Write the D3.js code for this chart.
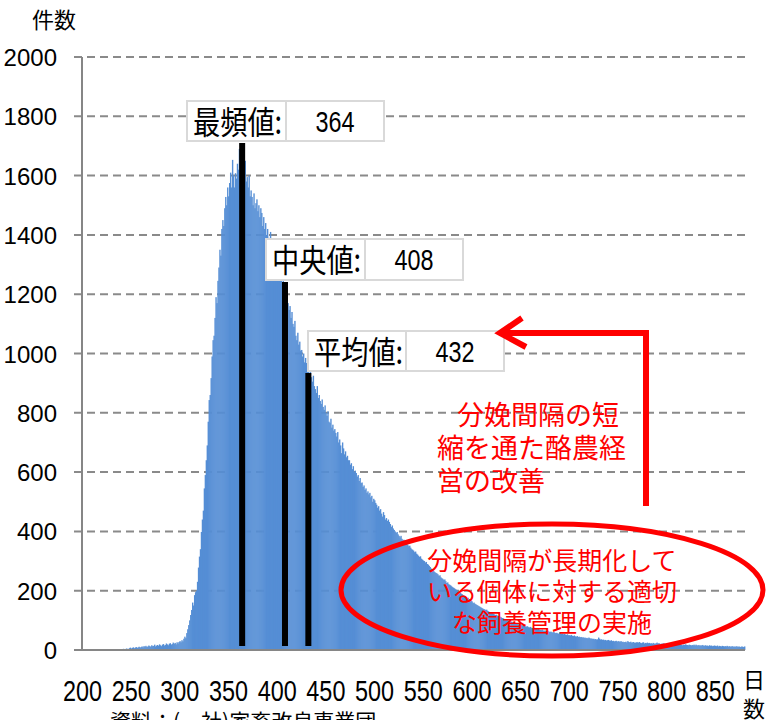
<!DOCTYPE html>
<html>
<head>
<meta charset="utf-8">
<script src="https://cdn.jsdelivr.net/npm/d3@7"></script>
<style>
  body { margin: 0; background: #ffffff; }
  svg { display: block; }
</style>
</head>
<body>
<div id="chart"></div>
<script>
// ----------------------------------------------------------------------------------------------------
// DATA
// ----------------------------------------------------------------------------------------------------

// number of cows per calving interval (days), one value per day from 200
var dayStart = 200;
var counts = [
    0,0,0,0,0,1,0,0,0,1,            0,0,1,0,0,1,0,1,0,0,
    1,0,1,1,0,2,1,0,1,2,            1,2,1,0,2,1,3,2,1,2,
    3,2,4,3,2,5,4,3,6,8,            5,7,9,6,8,10,7,9,11,8,
    10,12,9,13,11,14,10,12,15,13,   11,16,13,14,18,12,15,17,14,19,
    16,13,18,20,15,17,22,19,16,21,  23,18,20,25,21,24,19,26,22,27,
    30,26,33,29,38,45,40,57,70,84,
    100,118,135,160,150,185,195,200,230,278,
    315,340,398,440,470,545,590,640,690,770,
    843,860,917,990,1045,1060,1120,1190,1170,1245,
    1290,1350,1330,1420,1450,1430,1490,1528,1500,1560,
    1530,1575,1610,1560,1653,1600,1560,1608,1590,1640,
    1620,1690,1650,1710,1690,1640,1620,1650,1580,1595,
    1560,1600,1530,1550,1528,1500,1540,1490,1507,1520,
    1480,1500,1460,1490,1474,1430,1460,1420,1440,1400,
    1420,1390,1380,1410,1360,1380,1340,1360,1320,1330,
    1300,1320,1280,1290,1260,1238,1250,1210,1230,1190,
    1200,1170,1147,1160,1120,1140,1100,1090,1110,1060,
    1045,1070,1030,1040,1010,1012,990,1000,970,985,
    968,950,960,930,940,920,905,925,890,880,
    867,890,850,860,840,830,845,820,810,825,
    800,790,805,770,766,780,750,760,740,745,
    732,720,735,700,710,690,664,700,680,660,
    670,650,655,640,640,625,630,610,620,600,
    605,597,585,590,570,580,563,565,550,555,
    540,545,530,535,525,530,515,520,500,510,
    505,496,490,480,485,470,475,460,450,465,
    455,440,445,435,440,432,425,415,420,410,
    405,400,395,398,390,385,380,385,375,370,
    372,365,361,360,355,350,352,345,340,338,
    335,330,332,325,322,318,314,316,308,305,
    302,300,295,297,290,288,284,280,275,270,
    272,265,262,260,258,255,250,252,245,242,
    240,236,238,232,226,228,222,220,218,215,
    212,210,208,205,203,200,196,192,194,190,
    188,185,183,180,178,175,176,172,170,166,
    164,158,160,156,154,152,150,148,146,144,
    142,140,138,137,135,136,132,130,128,127,
    125,124,122,120,118,119,116,115,113,112,
    110,108,107,105,103,101,102,100,98,97,
    96,95,93,94,91,90,89,88,86,87,
    85,84,82,83,81,80,79,80,77,76,
    78,75,74,73,75,72,71,70,72,69,
    68,67,69,66,65,66,64,63,65,62,
    61,62,60,59,61,58,57,58,56,55,
    60,56,54,55,53,54,52,51,53,50,
    50,49,51,48,47,49,46,45,47,44,
    45,43,44,42,43,41,42,40,41,39,
    42,40,38,39,37,38,36,37,35,36,
    42,38,35,36,34,35,33,34,32,33,
    34,32,31,33,30,31,29,30,31,28,
    30,29,28,30,27,28,26,27,28,25,
    30,27,26,28,25,26,27,24,25,26,
    26,25,27,24,23,25,26,22,24,23,
    25,23,24,22,23,21,24,22,21,23,
    25,22,23,21,20,22,21,23,20,19,
    21,20,22,19,20,18,21,19,18,20,
    19,18,20,17,19,18,16,18,17,19,
    18,17,16,18,17,15,17,16,18,15,
    18,16,15,17,14,16,15,17,14,15,
    16,14,15,13,16,14,15,13,14,15,
    14,13,15,12,14,13,12,14,13,12,
    13,12,14,11,13,12,11,13,12,11,
    12,11,13,10,12,11,10,12,11,10,
    12
];

var yTicks = [0, 200, 400, 600, 800, 1000, 1200, 1400, 1600, 1800, 2000];
var xTicks = [200, 250, 300, 350, 400, 450, 500, 550, 600, 650, 700, 750, 800, 850];

var statNames = ["最頻値", "中央値", "平均値"];
var statValues = [364, 408, 432];

var noteLines = ["分娩間隔の短", "縮を通た酪農経", "営の改善"];
var ellipseLines = ["分娩間隔が長期化して", "いる個体に対する適切", "な飼養管理の実施"];

var yTitle = "件数";
var xTitle = ["日", "数"];
var sourceText = "資料：(一社)家畜改良事業団";

// ----------------------------------------------------------------------------------------------------
// CHART
// ----------------------------------------------------------------------------------------------------

function chartCalving_Draw(ele) {
    ele = "#" + ele;

    var w = 766;
    var h = 720;
    var left = 82, right = 745, top = 57, bottom = 650;

    var jpFont = "'Noto Sans CJK JP', 'Noto Sans', sans-serif";
    var numFont = "'Liberation Sans', Arial, sans-serif";

    var svg = d3.select(ele)
        .append("svg")
        .attr("width", w)
        .attr("height", h);

    // Scales
    var x = d3.scaleLinear()
        .domain([dayStart - 0.5, dayStart + counts.length - 0.5])
        .range([left, right]);
    var y = d3.scaleLinear()
        .domain([0, 2000])
        .range([bottom, top]);
    var step = x(1) - x(0);

    // Grid
    svg.selectAll(".grid")
        .data(yTicks.filter(function(d) { return d > 0; }))
        .enter()
        .append("line")
        .attr("class", "grid")
        .attr("x1", left - 8)
        .attr("x2", right)
        .attr("y1", function(d) { return y(d); })
        .attr("y2", function(d) { return y(d); })
        .attr("stroke", "#8a8a8a")
        .attr("stroke-width", 2)
        .attr("stroke-dasharray", "8,5");

    // Bars
    svg.selectAll(".bar")
        .data(counts)
        .enter()
        .append("rect")
        .attr("class", "bar")
        .attr("x", function(d, i) { return x(dayStart + i - 0.5); })
        .attr("y", function(d) { return y(d); })
        .attr("width", step + 0.4)
        .attr("height", function(d) { return y(0) - y(d); })
        .attr("fill", "#558ed5");

    // Axes
    svg.append("line")
        .attr("x1", left).attr("x2", left)
        .attr("y1", top).attr("y2", bottom)
        .attr("stroke", "#868686").attr("stroke-width", 2);
    svg.append("line")
        .attr("x1", left - 8).attr("x2", right)
        .attr("y1", bottom).attr("y2", bottom)
        .attr("stroke", "#868686").attr("stroke-width", 2);

    // Y labels
    svg.selectAll(".ylab")
        .data(yTicks)
        .enter()
        .append("text")
        .attr("class", "ylab")
        .attr("x", 57)
        .attr("y", function(d) { return y(d) + 9; })
        .attr("text-anchor", "end")
        .attr("font-family", numFont)
        .attr("font-size", "24px")
        .attr("fill", "#000000")
        .text(function(d) { return d; });

    // X labels
    svg.selectAll(".xlab")
        .data(xTicks)
        .enter()
        .append("text")
        .attr("class", "xlab")
        .attr("transform", function(d) { return "translate(" + x(d) + ",701) scale(0.78,1)"; })
        .attr("text-anchor", "middle")
        .attr("font-family", numFont)
        .attr("font-size", "30px")
        .attr("fill", "#000000")
        .text(function(d) { return d; });

    // Axis titles
    svg.append("text")
        .attr("x", 32).attr("y", 28)
        .attr("font-family", jpFont)
        .attr("font-size", "22px")
        .text(yTitle);
    svg.selectAll(".xtitle")
        .data(xTitle)
        .enter()
        .append("text")
        .attr("class", "xtitle")
        .attr("x", 743)
        .attr("y", function(d, i) { return 688 + i * 29; })
        .attr("font-family", jpFont)
        .attr("font-size", "22px")
        .text(function(d) { return d; });

    // Source
    svg.append("text")
        .attr("x", 110).attr("y", 729)
        .attr("font-family", jpFont)
        .attr("font-size", "21px")
        .text(sourceText);

    // Statistic markers
    var boxes = [
        { x: 187, y: 101, w1: 99, w2: 98, h: 40 },
        { x: 266, y: 239, w1: 99, w2: 98, h: 41 },
        { x: 308, y: 331, w1: 98, w2: 98, h: 40 }
    ];

    svg.selectAll(".statline")
        .data(statValues)
        .enter()
        .append("rect")
        .attr("class", "statline")
        .attr("x", function(d) { return x(d) - 3; })
        .attr("y", function(d, i) { return boxes[i].y + boxes[i].h + 2; })
        .attr("width", 6)
        .attr("height", function(d, i) { return 646 - (boxes[i].y + boxes[i].h + 2); })
        .attr("fill", "#000000");

    var stat = svg.selectAll(".stat")
        .data(statValues)
        .enter()
        .append("g")
        .attr("class", "stat")
        .attr("transform", function(d, i) { return "translate(" + boxes[i].x + "," + boxes[i].y + ")"; });

    stat.append("rect")
        .attr("x", 0).attr("y", 0)
        .attr("width", function(d, i) { return boxes[i].w1; })
        .attr("height", function(d, i) { return boxes[i].h; })
        .attr("fill", "#ffffff")
        .attr("stroke", "#d9d9d9").attr("stroke-width", 2);
    stat.append("rect")
        .attr("x", function(d, i) { return boxes[i].w1; }).attr("y", 0)
        .attr("width", function(d, i) { return boxes[i].w2; })
        .attr("height", function(d, i) { return boxes[i].h; })
        .attr("fill", "#ffffff")
        .attr("stroke", "#d9d9d9").attr("stroke-width", 2);
    stat.append("text")
        .attr("transform", "translate(6,33) scale(0.85,1)")
        .attr("font-family", jpFont)
        .attr("font-size", "32px")
        .attr("fill", "#000000")
        .text(function(d, i) { return statNames[i] + ":"; });
    stat.append("text")
        .attr("transform", function(d, i) { return "translate(" + (boxes[i].w1 + boxes[i].w2 / 2) + ",31) scale(0.78,1)"; })
        .attr("text-anchor", "middle")
        .attr("font-family", numFont)
        .attr("font-size", "30px")
        .attr("fill", "#000000")
        .text(function(d) { return d; });

    // Red arrow
    svg.append("path")
        .attr("d", "M646,506 L646,333 L500,333")
        .attr("fill", "none")
        .attr("stroke", "#ff0000")
        .attr("stroke-width", 6);
    svg.append("path")
        .attr("d", "M522,318 L500,333 L526,347")
        .attr("fill", "none")
        .attr("stroke", "#ff0000")
        .attr("stroke-width", 6)
        .attr("stroke-linejoin", "miter");

    var noteX = [457, 437, 437];
    svg.selectAll(".note")
        .data(noteLines)
        .enter()
        .append("text")
        .attr("class", "note")
        .attr("x", function(d, i) { return noteX[i]; })
        .attr("y", function(d, i) { return 425 + i * 33; })
        .attr("font-family", jpFont)
        .attr("font-size", "27px")
        .attr("fill", "#ff0000")
        .text(function(d) { return d; });

    // Red ellipse
    svg.append("ellipse")
        .attr("cx", 552).attr("cy", 590)
        .attr("rx", 211).attr("ry", 66)
        .attr("fill", "none")
        .attr("stroke", "#ff0000")
        .attr("stroke-width", 5);

    svg.selectAll(".enote")
        .data(ellipseLines)
        .enter()
        .append("text")
        .attr("class", "enote")
        .attr("x", 552)
        .attr("y", function(d, i) { return 570 + i * 31; })
        .attr("text-anchor", "middle")
        .attr("font-family", jpFont)
        .attr("font-size", "25px")
        .attr("fill", "#ff0000")
        .text(function(d) { return d; });
}

chartCalving_Draw("chart");
</script>
</body>
</html>
